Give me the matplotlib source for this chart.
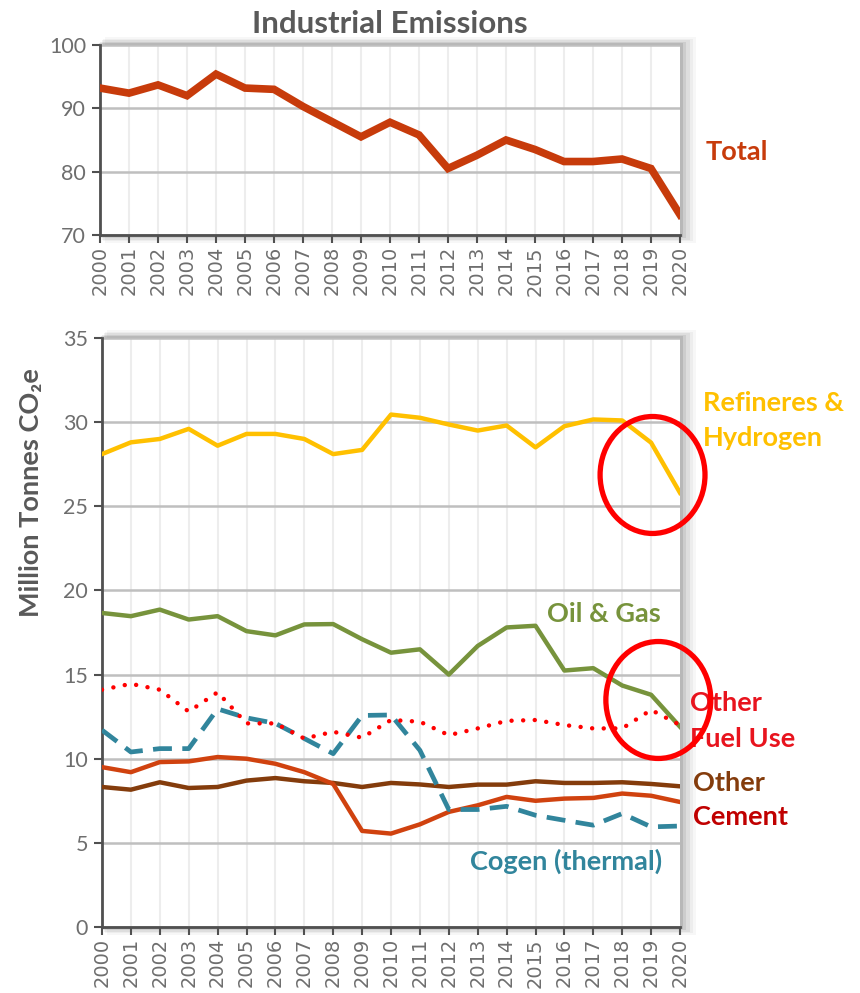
import matplotlib
matplotlib.use("Agg")
import matplotlib.pyplot as plt
from matplotlib.patches import Ellipse, Rectangle
import numpy as np

plt.rcParams['font.family'] = ['Lato', 'DejaVu Sans']

years = list(range(2000, 2021))
year_labels = [str(y) for y in years]

total = [93.2, 92.4, 93.7, 92.0, 95.4, 93.2, 93.0, 90.3, 87.9, 85.5, 87.8,
         85.8, 80.5, 82.6, 85.0, 83.5, 81.6, 81.6, 82.0, 80.5, 73.2]
refineries = [28.1, 28.8, 29.0, 29.6, 28.6, 29.3, 29.3, 29.0, 28.1, 28.35, 30.45,
              30.26, 29.86, 29.5, 29.8, 28.5, 29.76, 30.16, 30.1, 28.78, 25.8]
oil_gas = [18.66, 18.47, 18.86, 18.27, 18.47, 17.58, 17.33, 17.98, 18.0, 17.1, 16.3,
           16.5, 15.0, 16.7, 17.8, 17.9, 15.24, 15.38, 14.35, 13.8, 11.9]
other_fuel = [14.1, 14.45, 14.1, 12.8, 13.95, 12.1, 12.1, 11.2, 11.6, 11.25, 12.3,
              12.2, 11.4, 11.8, 12.25, 12.3, 12.0, 11.8, 11.8, 12.9, 12.0]
cogen = [11.7, 10.4, 10.6, 10.6, 12.96, 12.43, 12.1, 11.2, 10.3, 12.57, 12.6,
         10.5, 6.98, 6.98, 7.17, 6.64, 6.34, 6.05, 6.74, 5.95, 6.0]
cement = [9.5, 9.2, 9.8, 9.84, 10.1, 10.0, 9.7, 9.2, 8.5, 5.71, 5.55,
          6.1, 6.84, 7.23, 7.73, 7.5, 7.63, 7.67, 7.93, 7.8, 7.43]
other = [8.32, 8.16, 8.6, 8.26, 8.32, 8.7, 8.85, 8.66, 8.56, 8.32, 8.56,
         8.47, 8.32, 8.46, 8.46, 8.66, 8.56, 8.56, 8.6, 8.5, 8.36]

W, H = 860, 993
fig = plt.figure(figsize=(W / 100, H / 100), dpi=100)

def rect(l, t, r, b):
    return [l / W, 1 - b / H, (r - l) / W, (b - t) / H]

ax1 = fig.add_axes(rect(100, 45, 680, 235))
ax2 = fig.add_axes(rect(102, 338, 680, 927))

GRID_H = '#BFBFBF'
GRID_V = '#EDEDED'
SPINE = '#505050'
TXT = '#595959'
TICK = '#6E6E6E'

def shadow(ax):
    bb = ax.get_position()
    for i, a in enumerate([0.10, 0.08, 0.06, 0.04, 0.03]):
        d = (i + 1) * 1.6
        fig.patches.append(Rectangle((bb.x0 + (d - 3) / W, bb.y0 - d / H),
                                     bb.width + (d + 3) / W, bb.height + 2 * d / H,
                                     transform=fig.transFigure, facecolor='black',
                                     alpha=a, edgecolor='none', zorder=-5))

def style(ax):
    ax.set_xlim(2000, 2020)
    ax.set_xticks(years)
    ax.set_xticklabels(year_labels, rotation=90, fontsize=14, color=TICK,
                       family=['DejaVu Sans'])
    for x in years[1:-1]:
        ax.axvline(x, color=GRID_V, lw=1.5, zorder=0)
    ax.grid(axis='y', color=GRID_H, lw=1.8, zorder=0)
    ax.set_axisbelow(True)
    for s in ['top', 'right']:
        ax.spines[s].set_visible(False)
    for s in ['left', 'bottom']:
        ax.spines[s].set_color(SPINE)
        ax.spines[s].set_linewidth(2)
    ax.tick_params(axis='both', direction='out', length=6, width=1.5, color=SPINE)
    ax.tick_params(axis='y', labelsize=15.5, labelcolor=TICK, pad=4)
    ax.tick_params(axis='x', pad=2)
    shadow(ax)

style(ax1)
style(ax2)

# Top chart
ax1.set_ylim(70, 100)
ax1.set_yticks([70, 80, 90, 100])
ax1.plot(years, total, color='#C73B0B', lw=5.5, solid_joinstyle='miter', zorder=3)
ax1.set_title('Industrial Emissions', fontsize=22.5, fontweight='bold', color=TXT, pad=9)
ax1.text(2020.9, 83.1, 'Total', color='#C73B0B', fontsize=19.5, fontweight='bold',
         va='center', ha='left', clip_on=False)

# Bottom chart
ax2.set_ylim(0, 35)
ax2.set_yticks([0, 5, 10, 15, 20, 25, 30, 35])
ax2.plot(years, refineries, color='#FFC000', lw=3.2, zorder=3)
ax2.plot(years, oil_gas, color='#77933C', lw=3.2, zorder=3)
ax2.plot(years, other, color='#843C0C', lw=3.2, zorder=3)
ax2.plot(years, cement, color='#D0420F', lw=3.2, zorder=3)
ax2.plot(years, cogen, color='#31859C', lw=3.4, dashes=(4, 2.2), zorder=3)
ax2.plot(years, other_fuel, color='#FF0000', lw=3.2, dashes=(0.01, 2.6),
         dash_capstyle='round', zorder=4)

fig.text(31 / W, 1 - 493 / H, 'Million Tonnes CO\u2082e', rotation=90, fontsize=19.5,
         fontweight='bold', color=TXT, ha='center', va='center')

lbl = dict(fontsize=19.5, fontweight='bold', va='center', ha='left', clip_on=False)
ax2.text(2020.8, 31.14, 'Refineres &', color='#FFC000', **lbl)
ax2.text(2020.8, 29.06, 'Hydrogen', color='#FFC000', **lbl)
ax2.text(2015.4, 18.6, 'Oil & Gas', color='#77933C', **lbl)
ax2.text(2020.35, 13.31, 'Other', color='#E8141E', **lbl)
ax2.text(2020.35, 11.17, 'Fuel Use', color='#E8141E', **lbl)
ax2.text(2020.45, 8.56, 'Other', color='#843C0C', **lbl)
ax2.text(2020.45, 6.54, 'Cement', color='#C00000', **lbl)
ax2.text(2012.75, 3.9, 'Cogen (thermal)', color='#31859C', **lbl)

for cx, cy in [(2019.05, 26.86), (2019.25, 13.49)]:
    ax2.add_patch(Ellipse((cx, cy), 3.63, 6.95, fill=False, edgecolor='#FF0000',
                          lw=3.8, clip_on=False, zorder=10))

fig.savefig('out.png', dpi=100)
